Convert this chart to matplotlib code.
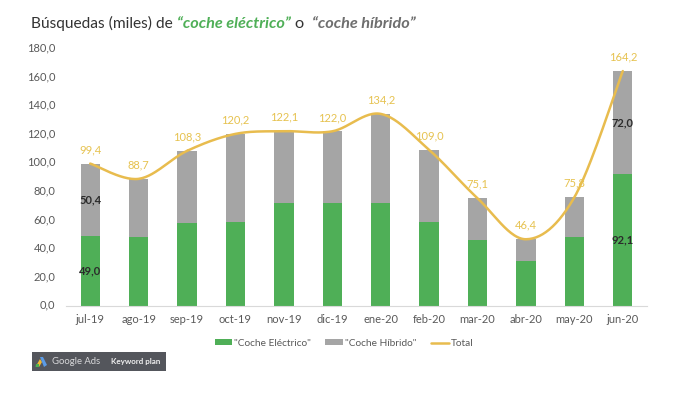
import numpy as np
import matplotlib
matplotlib.use("Agg")
import matplotlib.pyplot as plt
from matplotlib.patches import Rectangle, Polygon
from matplotlib.transforms import ScaledTranslation

plt.rcParams['font.family'] = ['Lato', 'DejaVu Sans']

months = ["jul-19","ago-19","sep-19","oct-19","nov-19","dic-19","ene-20","feb-20","mar-20","abr-20","may-20","jun-20"]
electrico = [49.0,48.0,58.0,58.5,71.5,71.5,71.5,58.5,46.0,31.0,48.0,92.1]
hibrido = [50.4,40.7,50.3,61.7,50.6,50.5,62.7,50.5,29.1,15.4,27.8,72.0]
total = [99.4,88.7,108.3,120.2,122.1,122.0,134.2,109.0,75.1,46.4,75.8,164.2]
y_ticks = [0,20,40,60,80,100,120,140,160,180]
label_electrico = {0:"49,0", 11:"92,1"}
label_hibrido = {0:"50,4", 11:"72,0"}

GREEN="#4FAF57"; GREY="#A5A5A5"; GOLD="#E8BC4E"; GOLDTXT="#E6C24F"; TXT="#595959"; DARK="#2B2B2B"

W,H=700,394
fig=plt.figure(figsize=(7,3.94),dpi=100)
ax=fig.add_axes([66/W,1-305.5/H,(647-66)/W,257/H])
x=np.arange(len(months))
b1=ax.bar(x,electrico,width=0.40,color=GREEN)
b2=ax.bar(x,hibrido,width=0.40,bottom=electrico,color=GREY)

# Excel-style smoothed line through the totals (Catmull-Rom)
def smooth(xs,ys,n=30):
    xs=np.asarray(xs,float); ys=np.asarray(ys,float)
    px=np.r_[xs[0],xs,xs[-1]]; py=np.r_[ys[0],ys,ys[-1]]
    ox,oy=[],[]
    for i in range(1,len(px)-2):
        t=np.linspace(0,1,n)
        for p,o in ((px,ox),(py,oy)):
            p0,p1,p2,p3=p[i-1],p[i],p[i+1],p[i+2]
            o.extend(0.5*(2*p1+(p2-p0)*t+(2*p0-5*p1+4*p2-p3)*t**2+(3*p1-p0-3*p2+p3)*t**3))
    return ox,oy
sx,sy=smooth(x,total)
l1,=ax.plot(sx,sy,color=GOLD,lw=1.8,solid_capstyle='round')

ax.set_xlim(-0.5,11.5); ax.set_ylim(0,180)
ax.set_xticks(x,months); ax.set_yticks(y_ticks,[f"{v:.1f}".replace(".",",") for v in y_ticks])
ax.tick_params(length=0,labelsize=8,labelcolor=TXT)
ax.tick_params(axis='x',pad=6)
ax.tick_params(axis='y',pad=7.5)
up=ScaledTranslation(0,1.0/72,fig.dpi_scale_trans)
for lab in ax.get_yticklabels():
    lab.set_transform(lab.get_transform()+up)
for s in ("top","left","right"): ax.spines[s].set_visible(False)
ax.spines['bottom'].set_color("#D9D9D9"); ax.spines['bottom'].set_linewidth(0.8)

for i,t in enumerate(total):
    ax.annotate(f"{t:.1f}".replace(".",","),(i,t),xytext=(0,10),textcoords='offset points',
                ha='center',va='center',fontsize=8,color=GOLDTXT)
for i,s in label_electrico.items():
    ax.text(i,electrico[i]/2,s,ha='center',va='center',fontsize=8,color=DARK,fontweight='bold')
for i,s in label_hibrido.items():
    ax.text(i,electrico[i]+hibrido[i]/2,s,ha='center',va='center',fontsize=8,color=DARK,fontweight='bold')

leg=ax.legend([b1,b2,l1],['"Coche Eléctrico"','"Coche Híbrido"','Total'],
              loc='center',bbox_to_anchor=(344/W,1-343.5/H),bbox_transform=fig.transFigure,ncol=3,frameon=False,
              fontsize=7.3,labelcolor=TXT,handlelength=1.75,handleheight=0.55,handletextpad=0.2,columnspacing=1.4,borderpad=0)

# Title, run by run
TS=11.2
runs=[("Búsquedas (miles) de ","#333333","normal","normal",TS),
      ("“coche eléctrico”",GREEN,"italic","bold",11.7),
      (" o  ","#333333","normal","normal",TS+0.6),
      ("“coche híbrido”","#6E6E6E","italic","bold",11.7)]
r=fig.canvas.get_renderer()
px=31.0
a=fig.text(0,0,"x x",fontsize=TS); b=fig.text(0,0,"xx",fontsize=TS)
sp=a.get_window_extent(r).width-b.get_window_extent(r).width
a.remove(); b.remove()
for s,c,st,wt,fs in runs:
    lead=len(s)-len(s.lstrip()); core=s.strip(); trail=len(s)-len(s.rstrip())
    px+=lead*sp
    t=fig.text(px/W,1-28/H,core,fontsize=fs,color=c,style=st,fontweight=wt,ha='left',va='baseline')
    px+=t.get_window_extent(r).width+trail*sp

# Source badge
def R(x0,y0,x1,y1,**k): fig.add_artist(Rectangle((x0/W,1-y1/H),(x1-x0)/W,(y1-y0)/H,transform=fig.transFigure,**k))
def P(pts,c): fig.add_artist(Polygon([(a/W,1-b/H) for a,b in pts],closed=True,color=c,transform=fig.transFigure,lw=0))
R(32,352,165.5,371,color="#54565C",lw=0)
P([(36,366),(40,359),(42,362),(39,367)],"#F4B92F")
P([(40,357),(43,357),(47,365),(44,367)],"#5B9BE6")
P([(35.5,367),(36,364),(39,364),(39,367)],"#4CAF50")
fig.text(52/W,1-361.5/H,"Google Ads",fontsize=6.8,color="#D8D8DA",ha='left',va='center')
R(104.5,355,105,368,color="#85878C",lw=0)
fig.text(111/W,1-361.5/H,"Keyword plan",fontsize=5.8,color="#F0F0F0",fontweight='bold',ha='left',va='center')

fig.savefig("out.png",dpi=100)
